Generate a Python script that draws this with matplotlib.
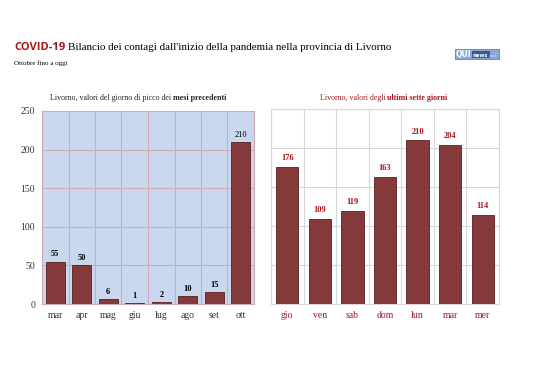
import numpy as np
import matplotlib.pyplot as plt
from matplotlib.patches import Rectangle

# --- Data ---
months = ["mar", "apr", "mag", "giu", "lug", "ago", "set", "ott"]
month_peaks = [55, 50, 6, 1, 2, 10, 15, 210]

days = ["gio", "ven", "sab", "dom", "lun", "mar", "mer"]
day_values = [176, 109, 119, 163, 210, 204, 114]

y_ticks = [0, 50, 100, 150, 200, 250]

# --- Colours ---
BAR = "#843a3a"
EDGE = "#5c1e1e"
RED = "#a8141c"
BLUE_BG = "#c9d8ef"
PINK_GRID = "#d4a9b6"

plt.rcParams["font.family"] = ["Liberation Serif", "DejaVu Serif"]

fig = plt.figure(figsize=(5.38, 3.8), dpi=100)
W, H = 538, 380


def px_axes(x0, y0, x1, y1):
    # pixel box (top-left origin) -> figure axes
    return fig.add_axes([x0 / W, 1 - y1 / H, (x1 - x0) / W, (y1 - y0) / H])


def text_run(x, y, parts, gap=1.5):
    """Write several text pieces one after another on the same baseline."""
    for s, kw in parts:
        t = fig.text(x / W, 1 - y / H, s, va="baseline", **kw)
        fig.canvas.draw()
        x = t.get_window_extent().x1 + gap


# --- Header ---
text_run(14, 50, [
    ("COVID-19", dict(fontsize=8, fontweight="bold", color=RED,
                      family=["Open Sans", "DejaVu Sans"])),
    ("Bilancio dei contagi dall'inizio della pandemia nella provincia di Livorno",
     dict(fontsize=7.9, color="black")),
], gap=3)
fig.text(14 / W, 1 - 65 / H, "Ottobre fino a oggi", fontsize=5, va="baseline")

# small logo box
fig.patches.append(Rectangle((455 / W, 1 - 59 / H), 44 / W, 10 / H,
                             transform=fig.transFigure, facecolor="#8aa8d8",
                             edgecolor="#6080b8", lw=0.6))
fig.patches.append(Rectangle((472 / W, 1 - 57.5 / H), 18 / W, 7 / H,
                             transform=fig.transFigure, facecolor="#3d5790",
                             edgecolor="none"))
text_run(456, 57, [
    ("QUI", dict(fontsize=5.5, fontweight="bold", color="white",
                 family=["DejaVu Sans"])),
    ("news", dict(fontsize=3.8, fontweight="bold", color="white",
                  family=["DejaVu Sans"])),
    (".net", dict(fontsize=3, color="#dde6f5", family=["DejaVu Sans"])),
], gap=1)

# --- Left chart: monthly peaks ---
ax1 = px_axes(42, 111, 254, 304)
x1 = np.arange(len(months))
ax1.set_facecolor(BLUE_BG)
ax1.bar(x1, month_peaks, width=0.7, color=BAR, edgecolor=EDGE, lw=0.6, zorder=3)
ax1.set_xlim(-0.5, len(months) - 0.5)
ax1.set_ylim(0, 250)
ax1.set_yticks(y_ticks)
ax1.set_xticks(x1)
ax1.set_xticklabels(months)
ax1.set_xticks(np.arange(len(months) + 1) - 0.5, minor=True)
ax1.grid(True, which="minor", axis="x", color=PINK_GRID, lw=0.8, zorder=0)
ax1.grid(True, which="major", axis="y", color=PINK_GRID, lw=0.8, zorder=0)
ax1.tick_params(which="both", length=0, labelsize=7, pad=5, labelcolor="#333333")
for s in ax1.spines.values():
    s.set_color(PINK_GRID)
    s.set_linewidth(0.8)
for xi, v in zip(x1, month_peaks):
    ax1.text(xi, v + 4, str(v), ha="center", va="bottom", fontsize=6,
             fontweight="bold" if v < 200 else "normal", color="black")

text_run(50, 100, [
    ("Livorno, valori del giorno di picco dei", dict(fontsize=5.7, color="#222222")),
    ("mesi precedenti", dict(fontsize=5.7, fontweight="bold", color="#222222")),
])

# --- Right chart: last seven days ---
ax2 = px_axes(271, 109, 499, 304)
x2 = np.arange(len(days))
ax2.bar(x2, day_values, width=0.68, color=BAR, edgecolor=EDGE, lw=0.6, zorder=3)
ax2.set_xlim(-0.5, len(days) - 0.5)
ax2.set_ylim(0, 250)
ax2.set_yticks(y_ticks)
ax2.set_yticklabels([])
ax2.set_xticks(x2)
ax2.set_xticklabels(days, color=RED)
ax2.set_xticks(np.arange(len(days) + 1) - 0.5, minor=True)
ax2.grid(True, which="minor", axis="x", color="#d8d8d8", lw=0.8, zorder=0)
ax2.grid(True, which="major", axis="y", color="#d8d8d8", lw=0.8, zorder=0)
ax2.tick_params(which="both", length=0, labelsize=7, pad=5)
for s in ax2.spines.values():
    s.set_color("#d8d8d8")
    s.set_linewidth(0.8)
for xi, v in zip(x2, day_values):
    ax2.text(xi, v + 6, str(v), ha="center", va="bottom", fontsize=6,
             fontweight="bold", color=RED)

text_run(320, 100, [
    ("Livorno, valori degli", dict(fontsize=5.7, color=RED)),
    ("ultimi sette giorni", dict(fontsize=5.7, fontweight="bold", color=RED)),
])

fig.savefig("out.png", dpi=100)
